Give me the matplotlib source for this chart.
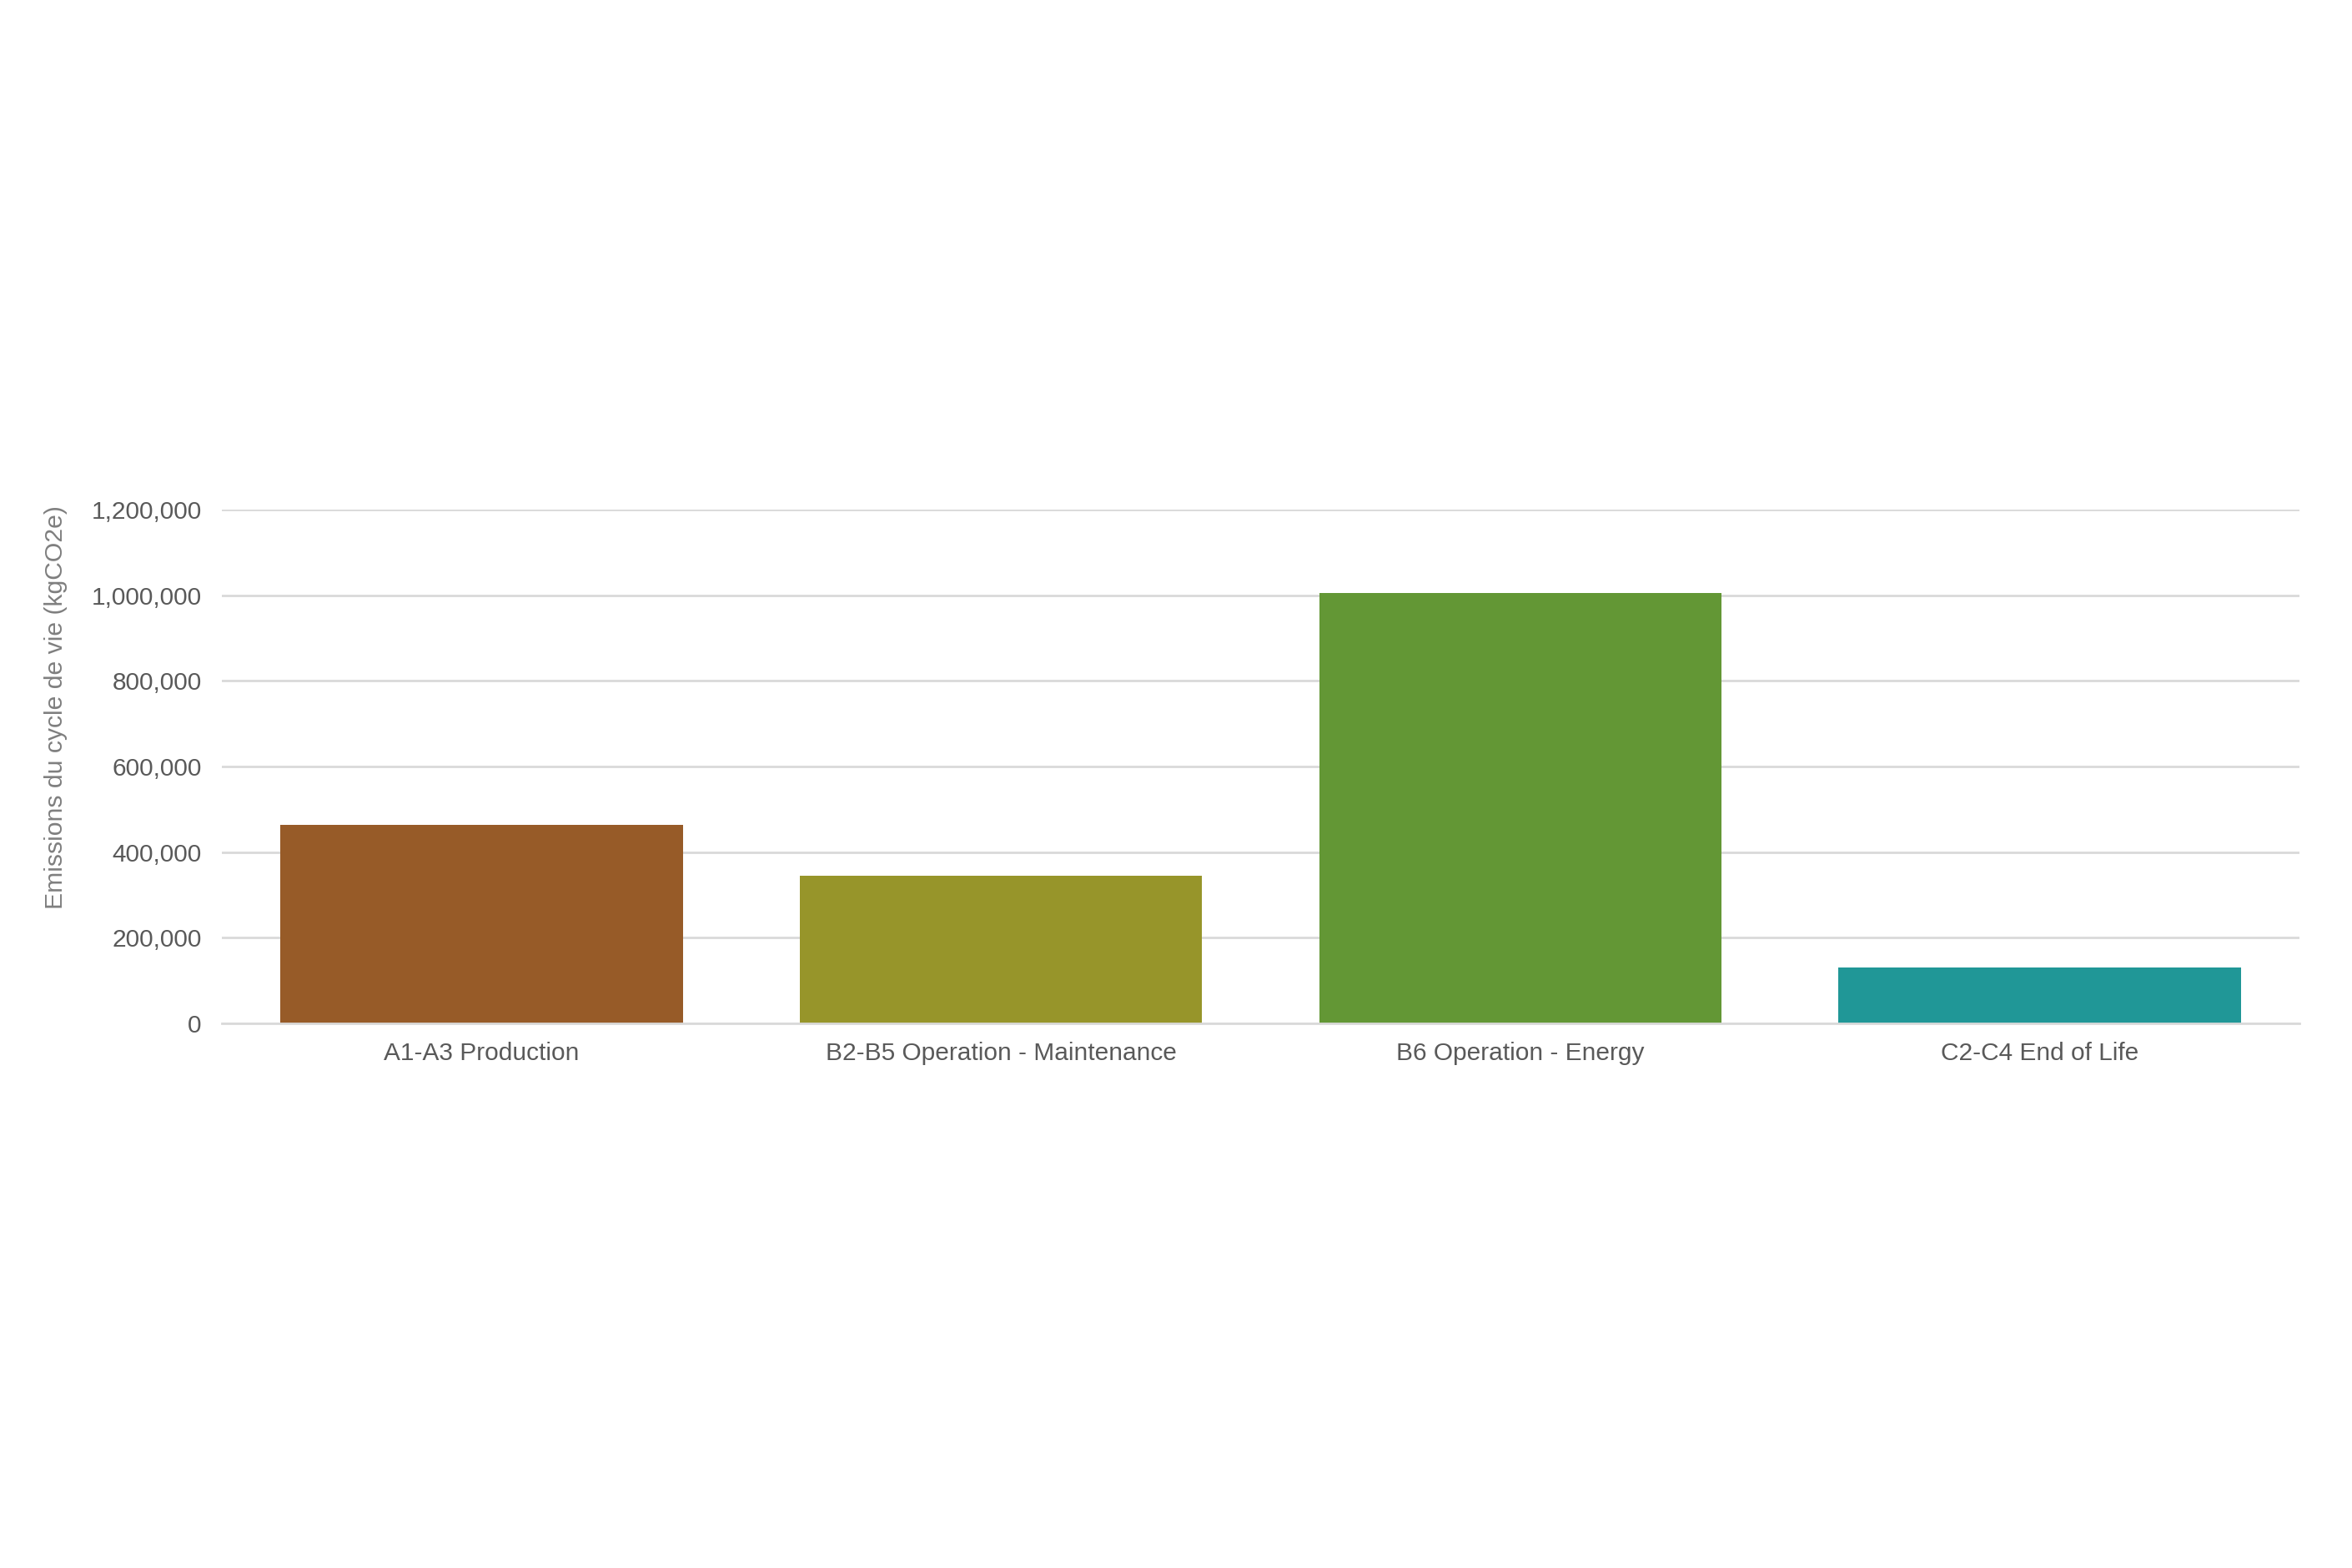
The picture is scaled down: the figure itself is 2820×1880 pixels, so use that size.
import matplotlib.pyplot as plt
from matplotlib.ticker import FuncFormatter

# lifecycle stages and emissions (kgCO2e)
stages = ["A1-A3 Production", "B2-B5 Operation - Maintenance",
          "B6 Operation - Energy", "C2-C4 End of Life"]
emissions = [464000, 345000, 1006000, 131000]
colors = ["#975B28", "#97952A", "#639735", "#209797"]
yticks = [0, 200000, 400000, 600000, 800000, 1000000, 1200000]

plt.rcParams['font.family'] = ['Liberation Sans', 'DejaVu Sans']

fig = plt.figure(figsize=(28.2, 18.8), dpi=100)
ax = fig.add_axes([0.0943, 0.3473, 0.8834, 0.3277])

ax.bar(range(len(stages)), emissions, width=0.775, color=colors, zorder=2)

ax.set_xlim(-0.5, len(stages) - 0.5)
ax.set_ylim(0, 1200000)
ax.set_yticks(yticks)
ax.yaxis.set_major_formatter(FuncFormatter(lambda v, p: f"{int(v):,}"))
ax.set_xticks(range(len(stages)))
ax.set_xticklabels(stages)

ax.grid(axis='y', color='#d9d9d9', linewidth=2, zorder=0)
for s in ['top', 'right', 'left']:
    ax.spines[s].set_visible(False)
ax.spines['bottom'].set_color('#d9d9d9')
ax.spines['bottom'].set_linewidth(2)
ax.tick_params(axis='both', length=0, labelsize=21.5, labelcolor='#595959')
ax.tick_params(axis='y', pad=17.5)
ax.tick_params(axis='x', pad=16)

# y label sits a bit above the axes middle in the original
fig.text(0.0236, 0.549, "Emissions du cycle de vie (kgCO2e)", fontsize=21.7,
         color='#7f7f7f', rotation=90, ha='center', va='center')

fig.savefig("out.png", dpi=100, facecolor='white')
